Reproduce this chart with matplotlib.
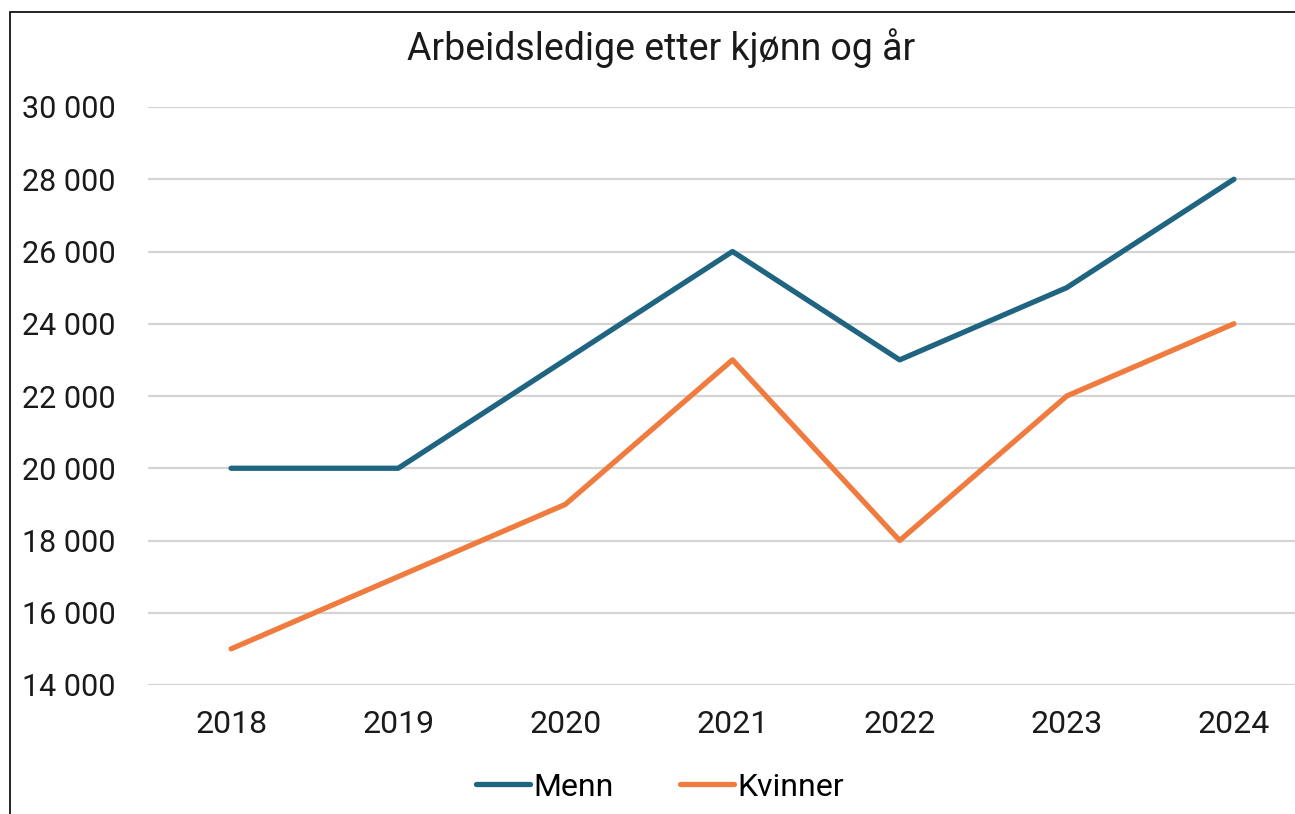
import matplotlib
matplotlib.use("Agg")
import matplotlib.pyplot as plt
from matplotlib.patches import Rectangle
from matplotlib.ticker import FuncFormatter

plt.rcParams['font.family'] = ['Roboto', 'DejaVu Sans']

years = ["2018", "2019", "2020", "2021", "2022", "2023", "2024"]
menn = [20000, 20000, 23000, 26000, 23000, 25000, 28000]
kvinner = [15000, 17000, 19000, 23000, 18000, 22000, 24000]
yticks = [14000, 16000, 18000, 20000, 22000, 24000, 26000, 28000, 30000]

W, H = 1295, 814
fig = plt.figure(figsize=(W / 100, H / 100), dpi=100)

# outer border (chart is cropped on right and bottom)
fig.patches.append(Rectangle((10 / W, -0.1), 2.0, 1 - 12 / H + 0.1,
                             transform=fig.transFigure, fill=False,
                             edgecolor='black', linewidth=1.2))

left = 147.5 / W
right = 1317.5 / W
bottom = (H - 685) / H
top = (H - 107) / H
ax = fig.add_axes([left, bottom, right - left, top - bottom])

x = list(range(len(years)))
ax.plot(x, menn, color='#1F6480', linewidth=3.8, solid_capstyle='round',
        solid_joinstyle='round', label='Menn')
ax.plot(x, kvinner, color='#F07B3F', linewidth=3.8, solid_capstyle='round',
        solid_joinstyle='round', label='Kvinner')

ax.set_xlim(-0.5, len(years) - 0.5)
ax.set_ylim(14000, 30000)
ax.set_yticks(yticks)
ax.yaxis.set_major_formatter(FuncFormatter(lambda v, p: f"{int(v):,}".replace(",", " ")))
ax.set_xticks(x)
ax.set_xticklabels(years)
ax.grid(axis='y', color='#d4d4d4', linewidth=1.6)
ax.set_axisbelow(True)
for s in ax.spines.values():
    s.set_visible(False)
ax.tick_params(axis='both', length=0, colors='#1a1a1a')
ax.tick_params(axis='y', pad=23, labelsize=22)
ax.tick_params(axis='x', pad=18, labelsize=23)

fig.text(661 / W, 1 - 48 / H, "Arbeidsledige etter kjønn og år",
         ha='center', va='center', fontsize=27, color='#1a1a1a')

fig.legend(loc='center', bbox_to_anchor=(660 / W, 1 - 787 / H), ncol=2,
           frameon=False, fontsize=23, handlelength=1.7, handletextpad=0.12,
           columnspacing=2.05)

fig.savefig("out.png", dpi=100)
